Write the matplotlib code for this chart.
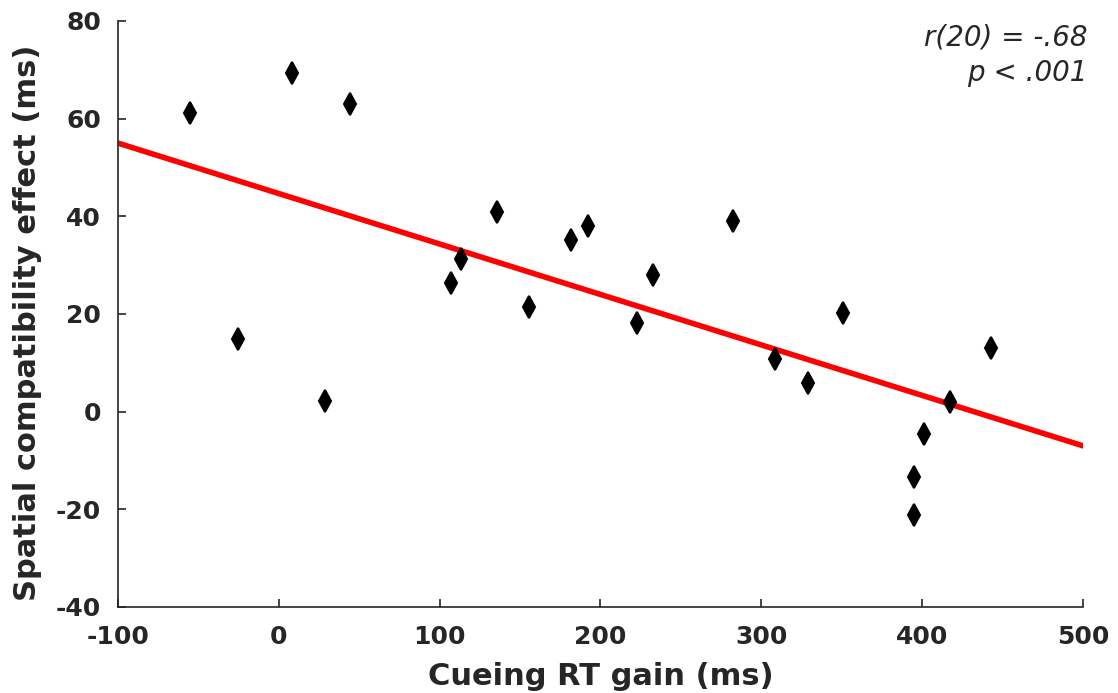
import numpy as np
import matplotlib
matplotlib.use('Agg')
import matplotlib.pyplot as plt

# cueing RT gain (ms) vs spatial compatibility effect (ms), one point per participant
rt_gain = [-55, -25.4, 8.2, 28.7, 44.3, 107, 113.3, 135.7, 155.6, 181.7, 192.3,
           222.8, 232.7, 282.5, 308.6, 329.1, 350.9, 395, 395, 401.2, 417.4, 443]
compat_effect = [61.2, 14.9, 69.4, 2.2, 63, 26.3, 31.3, 40.9, 21.4, 35.2, 38,
                 18.2, 28, 39, 10.8, 5.9, 20.2, -13.4, -21.2, -4.6, 2, 13]

# fitted line end points
fit_x = [-100, 500]
fit_y = [55, -7]

dark = '#262626'
plt.rcParams['axes.unicode_minus'] = False

fig = plt.figure(figsize=(11.18, 6.93), dpi=100)
ax = fig.add_axes([0.1055, 0.1241, 0.8632, 0.8456])

ax.plot(fit_x, fit_y, color='red', lw=4, zorder=2)
ax.plot(rt_gain, compat_effect, 'd', color='black', markersize=11, mew=1.5, zorder=3)

ax.set_xlim(-100, 500)
ax.set_ylim(-40, 80)
ax.set_xticks(range(-100, 501, 100))
ax.set_yticks(range(-40, 81, 20))

for side in ['top', 'right']:
    ax.spines[side].set_visible(False)
for side in ['left', 'bottom']:
    ax.spines[side].set_color(dark)
    ax.spines[side].set_linewidth(1.2)
ax.tick_params(axis='x', direction='in', length=6, width=1.2, color=dark, labelcolor=dark,
               labelsize=18, pad=13)
ax.tick_params(axis='y', direction='in', length=6, width=1.2, color=dark, labelcolor=dark,
               labelsize=18, pad=12)
for lab in ax.get_xticklabels() + ax.get_yticklabels():
    lab.set_fontweight('bold')

ax.set_xlabel('Cueing RT gain (ms)', fontsize=22, fontweight='bold', color=dark, labelpad=9)
ax.set_ylabel('Spatial compatibility effect (ms)', fontsize=22, fontweight='bold', color=dark)
ax.yaxis.set_label_coords(-0.079, 0.485)

ax.text(1.005, 0.995, 'r(20) = -.68\np < .001', transform=ax.transAxes, ha='right', va='top',
        fontsize=20, style='italic', color=dark, linespacing=1.3)

plt.savefig('out.png', dpi=100)
